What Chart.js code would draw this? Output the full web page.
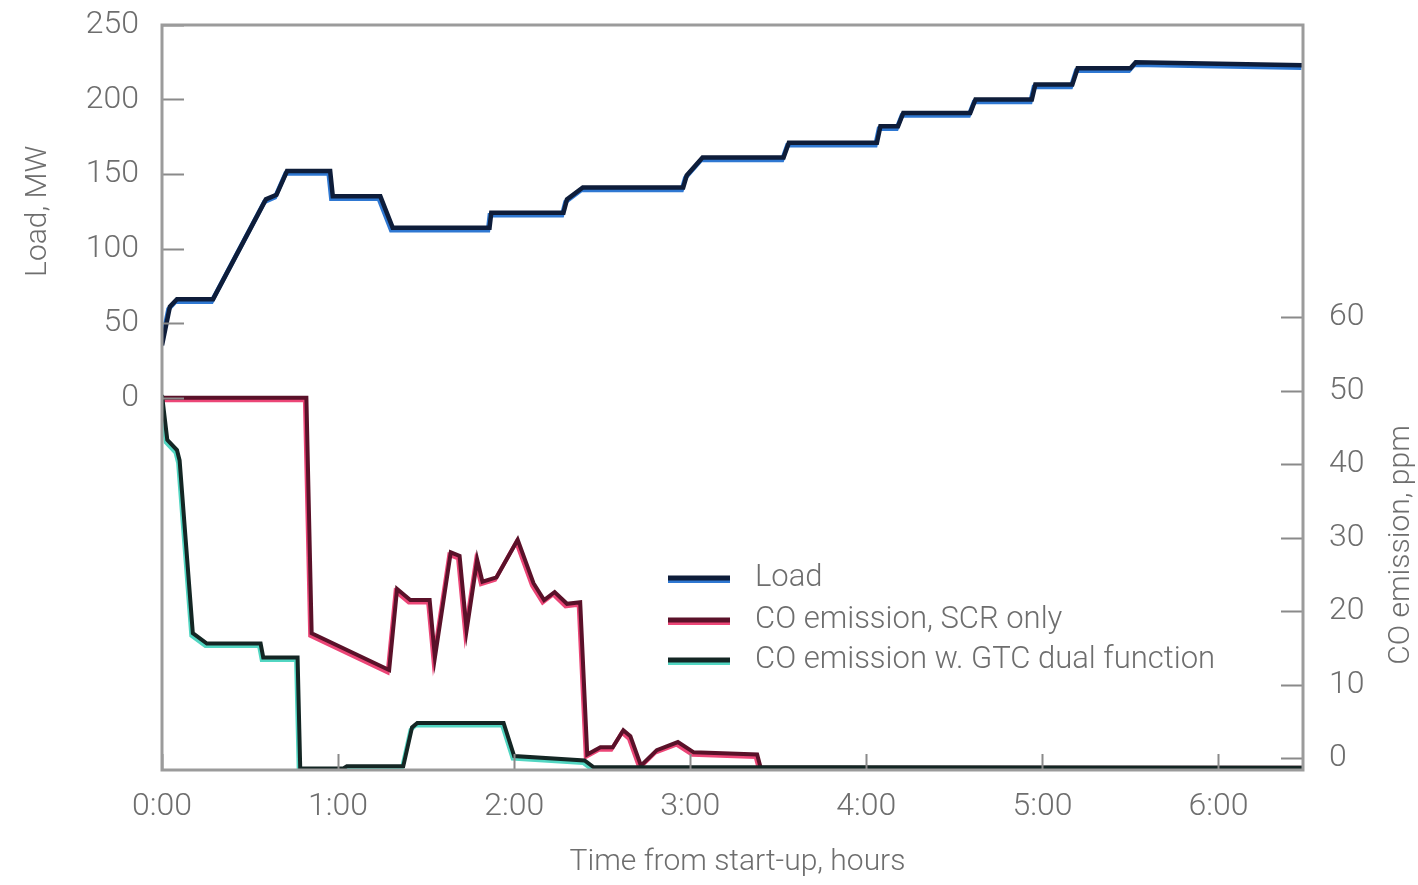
<!DOCTYPE html>
<html>
<head>
<meta charset="utf-8">
<script src="https://cdn.jsdelivr.net/npm/chart.js@4.4.1/dist/chart.umd.min.js"></script>
<style>
  html, body { margin: 0; padding: 0; background: #fff; }
  #wrap { width: 1418px; height: 885px; position: relative; }
</style>
</head>
<body>
<div id="wrap"><canvas id="chart"></canvas></div>
<script>
// hours from start-up and load in MW
const loadHours = [0, 0.045, 0.085, 0.29, 0.59, 0.65, 0.71, 0.955, 0.97, 1.24, 1.31, 1.86, 1.87, 2.28, 2.30, 2.39, 2.96, 2.98, 3.07, 3.53, 3.56, 4.06, 4.08, 4.18, 4.21, 4.59, 4.62, 4.94, 4.96, 5.17, 5.20, 5.50, 5.53, 6.0, 6.48];
const loadMW    = [35, 61, 66, 66, 133, 136, 152, 152, 135, 135, 114, 114, 124, 124, 133, 141, 141, 149, 161, 161, 171, 171, 182, 182, 191, 191, 200, 200, 210, 210, 221, 221, 225, 224, 223];

// CO emission, SCR only (ppm)
const scrHours = [0, 0.82, 0.85, 1.29, 1.335, 1.41, 1.52, 1.55, 1.64, 1.69, 1.73, 1.79, 1.82, 1.90, 2.02, 2.11, 2.17, 2.23, 2.30, 2.375, 2.415, 2.49, 2.56, 2.62, 2.66, 2.72, 2.81, 2.93, 3.02, 3.38, 3.40, 6.48];
const scrPpm   = [49, 49, 17, 12, 23, 21.5, 21.5, 13.7, 28, 27.5, 17.4, 27, 24, 24.6, 29.7, 23.8, 21.5, 22.6, 21, 21.2, 0.5, 1.5, 1.5, 3.8, 3.0, -1.0, 1.1, 2.2, 0.8, 0.5, -1.3, -1.3];

// CO emission with GTC dual function (ppm)
const gtcHours = [0, 0.03, 0.085, 0.10, 0.175, 0.255, 0.56, 0.575, 0.77, 0.785, 1.03, 1.05, 1.37, 1.42, 1.45, 1.94, 2.0, 2.40, 2.45, 6.48];
const gtcPpm   = [49.4, 43.3, 41.9, 40.5, 17, 15.6, 15.6, 13.7, 13.7, -1.4, -1.4, -1.1, -1.1, 4.2, 4.8, 4.8, 0.3, -0.3, -1.2, -1.3];

const hourTicks = [0, 1, 2, 3, 4, 5, 6];
const loadTicks = [0, 50, 100, 150, 200, 250];
const coTicks = [0, 10, 20, 30, 40, 50, 60];

const legendLabels = ['Load', 'CO emission, SCR only', 'CO emission w. GTC dual function'];

const textGrey = '#6e6e6e';
const fontFam = 'Roboto, "Open Sans", sans-serif';

const toPoints = (xs, ys) => xs.map((x, i) => ({ x: x, y: ys[i] }));

// dark line with a coloured edge drawn as an offset shadow
const twoTone = {
  id: 'twoTone',
  beforeDatasetDraw(chart, args) {
    const ds = chart.data.datasets[args.index];
    const ctx = chart.ctx;
    ctx.save();
    ctx.shadowColor = ds.edgeColor;
    ctx.shadowOffsetX = -1.5;
    ctx.shadowOffsetY = 2.5;
    ctx.shadowBlur = 0;
  },
  afterDatasetDraw(chart) {
    chart.ctx.restore();
  }
};

const frame = {
  id: 'frame',
  afterDraw(chart) {
    const ctx = chart.ctx;
    const a = chart.chartArea;
    const sx = chart.scales.x, sy = chart.scales.y, sy2 = chart.scales.y2;
    ctx.save();
    // inner tick marks
    ctx.strokeStyle = '#8a8a8a';
    ctx.lineWidth = 2;
    ctx.beginPath();
    loadTicks.forEach(v => {
      const y = Math.round(sy.getPixelForValue(v)) + 0.5;
      ctx.moveTo(a.left, y); ctx.lineTo(a.left + 22, y);
    });
    coTicks.forEach(v => {
      const y = Math.round(sy2.getPixelForValue(v)) + 0.5;
      ctx.moveTo(a.right - 22, y); ctx.lineTo(a.right, y);
    });
    hourTicks.forEach(v => {
      const x = Math.round(sx.getPixelForValue(v)) + 0.5;
      ctx.moveTo(x, a.bottom); ctx.lineTo(x, a.bottom - 16);
    });
    ctx.stroke();
    // box
    ctx.strokeStyle = '#9b9b9b';
    ctx.lineWidth = 3;
    ctx.strokeRect(a.left, a.top, a.right - a.left, a.bottom - a.top);

    // axis titles
    ctx.fillStyle = textGrey;
    ctx.font = '300 30px ' + fontFam;
    ctx.textAlign = 'center';
    ctx.textBaseline = 'middle';
    ctx.fillText('Time from start-up, hours', (sx.getPixelForValue(0) + a.right) / 2 + 5, 862);
    ctx.save();
    ctx.translate(38, sy.getPixelForValue(125));
    ctx.rotate(-Math.PI / 2);
    ctx.fillText('Load, MW', 0, 0);
    ctx.restore();
    ctx.save();
    ctx.translate(1401, sy2.getPixelForValue(29));
    ctx.rotate(-Math.PI / 2);
    ctx.fillText('CO emission, ppm', 0, 0);
    ctx.restore();

    // legend
    const lx = 668, ly = [578, 620, 660];
    const order = [0, 2, 1];
    order.forEach((di, k) => {
      const ds = chart.data.datasets[di];
      ctx.save();
      ctx.shadowColor = ds.edgeColor;
      ctx.shadowOffsetY = 2.5;
      ctx.strokeStyle = ds.borderColor;
      ctx.lineWidth = 5;
      ctx.beginPath();
      ctx.moveTo(lx, ly[k]); ctx.lineTo(lx + 62, ly[k]);
      ctx.stroke();
      ctx.restore();
      ctx.fillStyle = textGrey;
      ctx.font = '300 31px ' + fontFam;
      ctx.textAlign = 'left';
      ctx.fillText(legendLabels[k], 755, ly[k]);
    });
    ctx.restore();
  }
};

const noPad = s => { s.paddingTop = 0; s.paddingBottom = 0; };

new Chart(document.getElementById('chart'), {
  type: 'line',
  data: {
    datasets: [
      {
        label: 'Load',
        data: toPoints(loadHours, loadMW),
        yAxisID: 'y',
        borderColor: '#0e1d3a',
        edgeColor: '#2f78d2',
        borderWidth: 4.5
      },
      {
        label: 'CO emission w. GTC dual function',
        data: toPoints(gtcHours, gtcPpm),
        yAxisID: 'y2',
        borderColor: '#142624',
        edgeColor: '#52d6c2',
        borderWidth: 4
      },
      {
        label: 'CO emission, SCR only',
        data: toPoints(scrHours, scrPpm),
        yAxisID: 'y2',
        borderColor: '#5a1129',
        edgeColor: '#ec4677',
        borderWidth: 4
      }
    ]
  },
  options: {
    responsive: true,
    maintainAspectRatio: false,
    animation: false,
    layout: { padding: { top: 25, left: 0, right: 0, bottom: 0 } },
    elements: {
      point: { radius: 0 },
      line: { tension: 0, borderJoinStyle: 'miter', borderCapStyle: 'butt' }
    },
    plugins: {
      legend: { display: false },
      tooltip: { enabled: false }
    },
    scales: {
      x: {
        type: 'linear',
        min: 0,
        max: 6.48,
        afterBuildTicks: s => { s.ticks = hourTicks.map(v => ({ value: v })); },
        afterFit: s => { s.height = 115; s.paddingLeft = 0; s.paddingRight = 0; },
        grid: { display: false },
        border: { display: false },
        ticks: {
          padding: 10,
          color: textGrey,
          font: { family: fontFam, size: 32, weight: '300' },
          maxRotation: 0,
          callback: v => v + ':00'
        }
      },
      y: {
        position: 'left',
        min: -250,
        max: 250,
        afterBuildTicks: s => { s.ticks = loadTicks.map(v => ({ value: v })); },
        afterFit: s => { s.width = 162; noPad(s); },
        grid: { display: false },
        border: { display: false },
        ticks: {
          padding: 15,
          color: textGrey,
          font: { family: fontFam, size: 32, weight: '300' }
        }
      },
      y2: {
        position: 'right',
        min: -1.6,
        max: 99.7,
        afterBuildTicks: s => { s.ticks = coTicks.map(v => ({ value: v })); },
        afterFit: s => { s.width = 115; noPad(s); },
        grid: { display: false },
        border: { display: false },
        ticks: {
          padding: 18,
          color: textGrey,
          font: { family: fontFam, size: 32, weight: '300' }
        }
      }
    }
  },
  plugins: [twoTone, frame]
});
</script>
</body>
</html>
